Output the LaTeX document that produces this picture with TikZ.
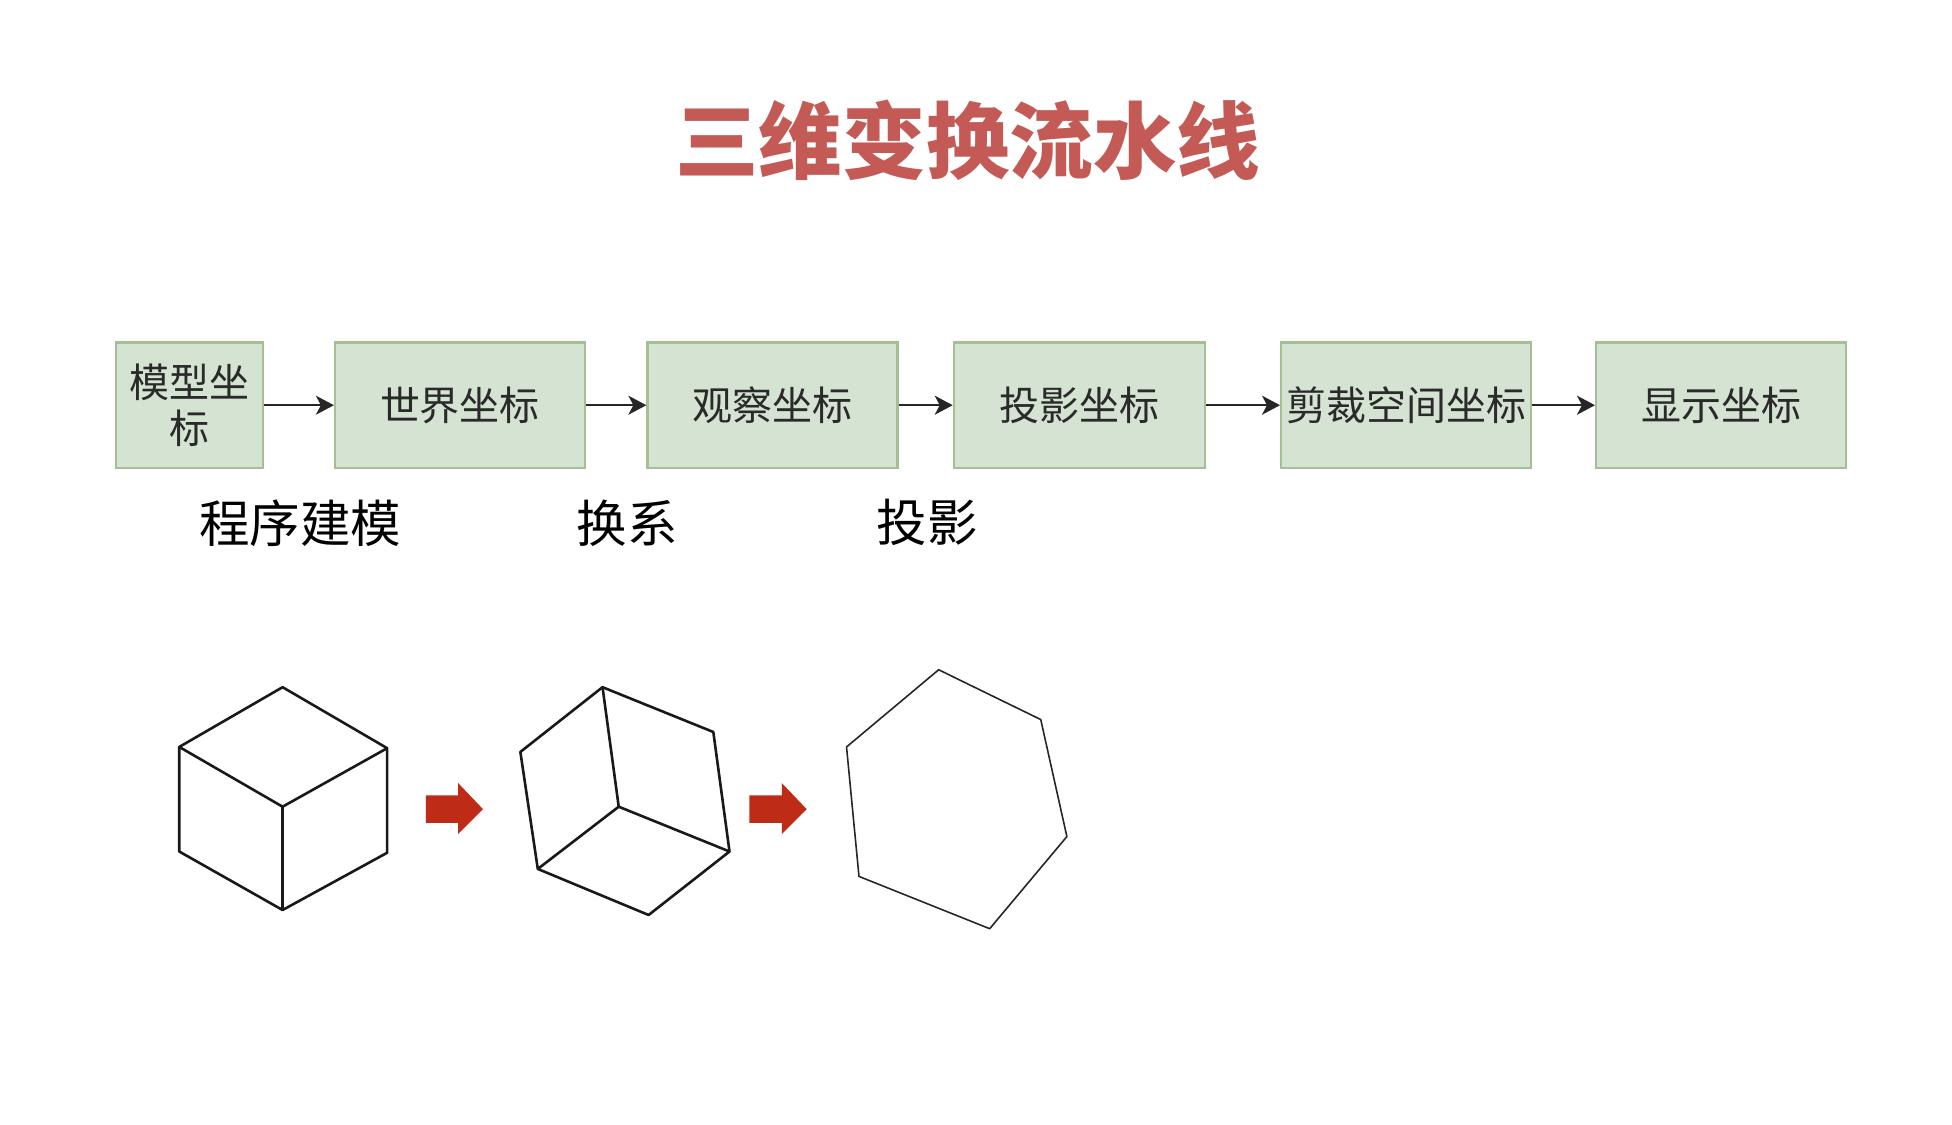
\documentclass[tikz,border=0pt]{standalone}
\usepackage{fontspec}
\setmainfont{Noto Sans CJK SC}
\usetikzlibrary{arrows.meta}
\definecolor{boxfill}{HTML}{D5E3D2}
\definecolor{boxline}{HTML}{A5BF95}
\definecolor{titlered}{HTML}{C45A56}
\definecolor{blockred}{HTML}{BE2B16}
\definecolor{boxtext}{HTML}{2A2A2A}
\tikzset{
  coordbox/.style={draw=boxline,fill=boxfill,line width=2.2pt,text=boxtext,minimum height=125.5pt,
    inner sep=0pt,align=center,font=\fontsize{40}{46}\selectfont},
  flowarrow/.style={-{Stealth[length=18pt,width=19pt,inset=5pt]},line width=2pt,color=black!85},
  steplabel/.style={font=\fontsize{50.5}{58}\selectfont,text=black,inner sep=0pt},
  thickedge/.style={line width=2.6pt,line join=round,color=black!90},
  thinedge/.style={line width=1.6pt,line join=round,color=black!85},
}
\begin{document}
\begin{tikzpicture}[x=1.245pt,y=-1.245pt]
\useasboundingbox (0,0) rectangle (1568,903.6);
\node[font=\fontsize{83.6}{90}\selectfont\bfseries,text=titlered,inner sep=0pt] (title) at (777.5,113) {三维变换流水线};
% coordinate boxes
\node[coordbox,minimum width=147pt] (modelbox) at (152,325.5) {模型坐\\标};
\node[coordbox,minimum width=250pt] (worldbox) at (369.5,325.5) {世界坐标};
\node[coordbox,minimum width=250pt] (viewbox) at (620.5,325.5) {观察坐标};
\node[coordbox,minimum width=251pt] (projbox) at (867,325.5) {投影坐标};
\node[coordbox,minimum width=250pt] (clipbox) at (1129.5,325.5) {剪裁空间坐标};
\node[coordbox,minimum width=250pt] (screenbox) at (1382.5,325.5) {显示坐标};
\draw[flowarrow] (modelbox) -- (worldbox);
\draw[flowarrow] (worldbox) -- (viewbox);
\draw[flowarrow] (viewbox) -- (projbox);
\draw[flowarrow] (projbox) -- (clipbox);
\draw[flowarrow] (clipbox) -- (screenbox);
\node[steplabel] (modellabel) at (241,420) {程序建模};
\node[steplabel] (viewlabel) at (504,420) {换系};
\node[steplabel] (projlabel) at (745,420) {投影};
% cube
\draw[thickedge] (227,552) -- (311,601) -- (311,685) -- (227,731) -- (144,684) -- (144,600) -- cycle;
\draw[thickedge] (144,600) -- (227,648) -- (311,601);
\draw[thickedge] (227,648) -- (227,731);
% turned cube
\draw[thickedge] (484,552) -- (573,588) -- (586,684) -- (521,735) -- (432,698) -- (418,604) -- cycle;
\draw[thickedge] (484,552) -- (497,648) -- (586,684);
\draw[thickedge] (497,648) -- (432,698);
% outline
\draw[thinedge] (754,538) -- (836,578) -- (857,672) -- (795,746) -- (690,704) -- (680,600) -- cycle;
% red arrows
\foreach \ax in {342,602}
  \fill[blockred] (\ax,639) -- (\ax+26,639) -- (\ax+26,629) -- (\ax+46,650) -- (\ax+26,670) -- (\ax+26,661) -- (\ax,661) -- cycle;
\end{tikzpicture}
\end{document}
